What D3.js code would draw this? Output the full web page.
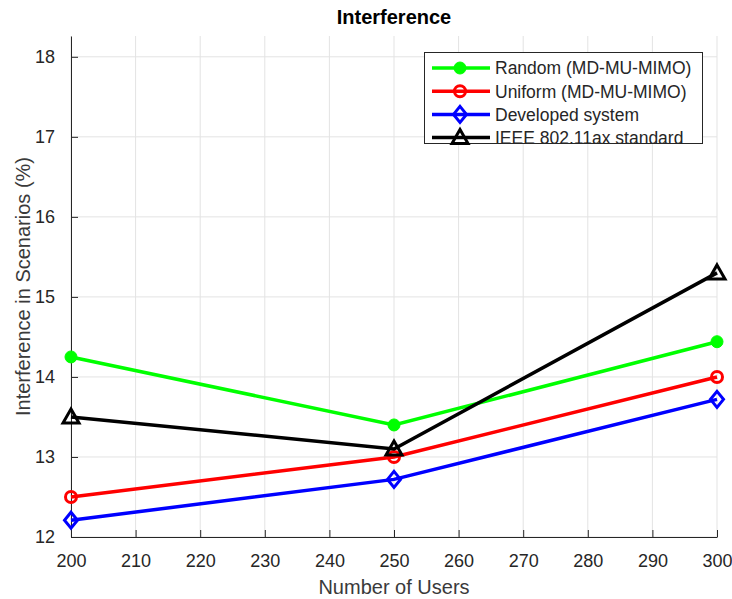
<!DOCTYPE html>
<html>
<head>
<meta charset="utf-8">
<script src="https://cdn.jsdelivr.net/npm/d3@7"></script>
<style>
  body { margin: 0; background: #fff; }
  text { font-family: "Liberation Sans", Arial, Helvetica, sans-serif; fill: #262626; }
</style>
</head>
<body>
<svg id="chart"></svg>
<script>
// interference per scenario vs number of users
var users = [200, 250, 300];
var randomMD = [14.25, 13.40, 14.44];
var uniformMD = [12.50, 13.00, 14.00];
var developed = [12.21, 12.72, 13.72];
var ieee = [13.50, 13.10, 15.30];

var xTicks = [200, 210, 220, 230, 240, 250, 260, 270, 280, 290, 300];
var yTicks = [12, 13, 14, 15, 16, 17, 18];

var seriesNames = ["Random (MD-MU-MIMO)", "Uniform (MD-MU-MIMO)", "Developed system", "IEEE 802.11ax standard"];
var seriesColors = ["#00ff00", "#ff0000", "#0000ff", "#000000"];
var seriesMarkers = ["dot", "circle", "diamond", "triangle"];
var seriesValues = [randomMD, uniformMD, developed, ieee];

var width = 732,
    height = 599;
var pLeft = 71, pRight = 717, pTop = 36, pBottom = 537;

var svg = d3.select('#chart')
            .attr('width', width)
            .attr('height', height);

var x = d3.scaleLinear().domain([200, 300]).range([pLeft, pRight]);
var y = d3.scaleLinear().domain([12, 18.26]).range([pBottom, pTop]);

// grid
svg.append('g').selectAll('line')
  .data(xTicks).enter().append('line')
    .attr('x1', d => x(d)).attr('x2', d => x(d))
    .attr('y1', pTop).attr('y2', pBottom)
    .attr('stroke', '#e3e3e3').attr('stroke-width', 1);
svg.append('g').selectAll('line')
  .data(yTicks).enter().append('line')
    .attr('x1', pLeft).attr('x2', pRight)
    .attr('y1', d => y(d)).attr('y2', d => y(d))
    .attr('stroke', '#e3e3e3').attr('stroke-width', 1);

// axes, ticks pointing inwards like matlab
var xAxis = svg.append('g')
  .attr('transform', 'translate(0,' + pBottom + ')')
  .call(d3.axisBottom(x).tickValues(xTicks).tickFormat(d3.format('d'))
        .tickSizeInner(-7).tickSizeOuter(0).tickPadding(13));
var yAxis = svg.append('g')
  .attr('transform', 'translate(' + pLeft + ',0)')
  .call(d3.axisLeft(y).tickValues(yTicks).tickFormat(d3.format('d'))
        .tickSizeInner(-7).tickSizeOuter(0).tickPadding(16));

[xAxis, yAxis].forEach(function(a) {
  a.select('.domain').attr('stroke', '#262626');
  a.selectAll('.tick line').attr('stroke', '#262626');
  a.selectAll('.tick text')
    .style('font-size', '18px')
    .style('font-family', '"Liberation Sans", Arial, sans-serif')
    .attr('fill', '#3a3a3a');
});
xAxis.selectAll('.tick text').attr('dy', '0.95em');

// lines
var line = d3.line()
  .x((d, i) => x(users[i]))
  .y(d => y(d));

function drawMarker(g, kind, color, cx, cy) {
  if (kind === 'dot') {
    g.append('circle').attr('cx', cx).attr('cy', cy).attr('r', 6)
      .attr('fill', color).attr('stroke', color).attr('stroke-width', 1);
  } else if (kind === 'circle') {
    g.append('circle').attr('cx', cx).attr('cy', cy).attr('r', 5.5)
      .attr('fill', 'none').attr('stroke', color).attr('stroke-width', 3);
  } else if (kind === 'diamond') {
    g.append('path')
      .attr('d', 'M' + cx + ',' + (cy - 8) + 'L' + (cx + 6.5) + ',' + cy + 'L' + cx + ',' + (cy + 8) + 'L' + (cx - 6.5) + ',' + cy + 'Z')
      .attr('fill', 'none').attr('stroke', color).attr('stroke-width', 3);
  } else {
    g.append('path')
      .attr('d', 'M' + cx + ',' + (cy - 8) + 'L' + (cx + 8) + ',' + (cy + 6) + 'L' + (cx - 8) + ',' + (cy + 6) + 'Z')
      .attr('fill', 'none').attr('stroke', color).attr('stroke-width', 3).attr('stroke-linejoin', 'miter');
  }
}

seriesValues.forEach(function(vals, s) {
  var g = svg.append('g');
  g.append('path')
    .datum(vals)
    .attr('d', line)
    .attr('fill', 'none')
    .attr('stroke', seriesColors[s])
    .attr('stroke-width', 3.5);
  vals.forEach(function(v, i) {
    drawMarker(g, seriesMarkers[s], seriesColors[s], x(users[i]), y(v));
  });
});

// legend
var legend = svg.append('g');
legend.append('rect')
  .attr('x', 424.5).attr('y', 52.5).attr('width', 278).attr('height', 91)
  .attr('fill', '#fff').attr('stroke', '#262626').attr('stroke-width', 1);
seriesNames.forEach(function(name, s) {
  var ly = 68 + s * 23.2;
  legend.append('line')
    .attr('x1', 432).attr('x2', 490).attr('y1', ly).attr('y2', ly)
    .attr('stroke', seriesColors[s]).attr('stroke-width', 3.5);
  drawMarker(legend, seriesMarkers[s], seriesColors[s], 460, ly);
  legend.append('text')
    .attr('x', 495).attr('y', ly)
    .attr('dy', '0.36em')
    .style('font-size', '17.5px')
    .text(name);
});

// labels
svg.append('text')
  .attr('x', (pLeft + pRight) / 2).attr('y', 24)
  .style('text-anchor', 'middle')
  .style('font-size', '20px')
  .style('font-weight', 'bold')
  .style('fill', '#000')
  .text('Interference');

svg.append('text')
  .attr('x', (pLeft + pRight) / 2).attr('y', 594)
  .style('text-anchor', 'middle')
  .style('font-size', '20px')
  .style('fill', '#3a3a3a')
  .text('Number of Users');

svg.append('text')
  .attr('transform', 'translate(30,' + (pTop + pBottom) / 2 + ') rotate(-90)')
  .style('text-anchor', 'middle')
  .style('font-size', '20px')
  .style('fill', '#3a3a3a')
  .text('Interference in Scenarios (%)');
</script>
</body>
</html>
